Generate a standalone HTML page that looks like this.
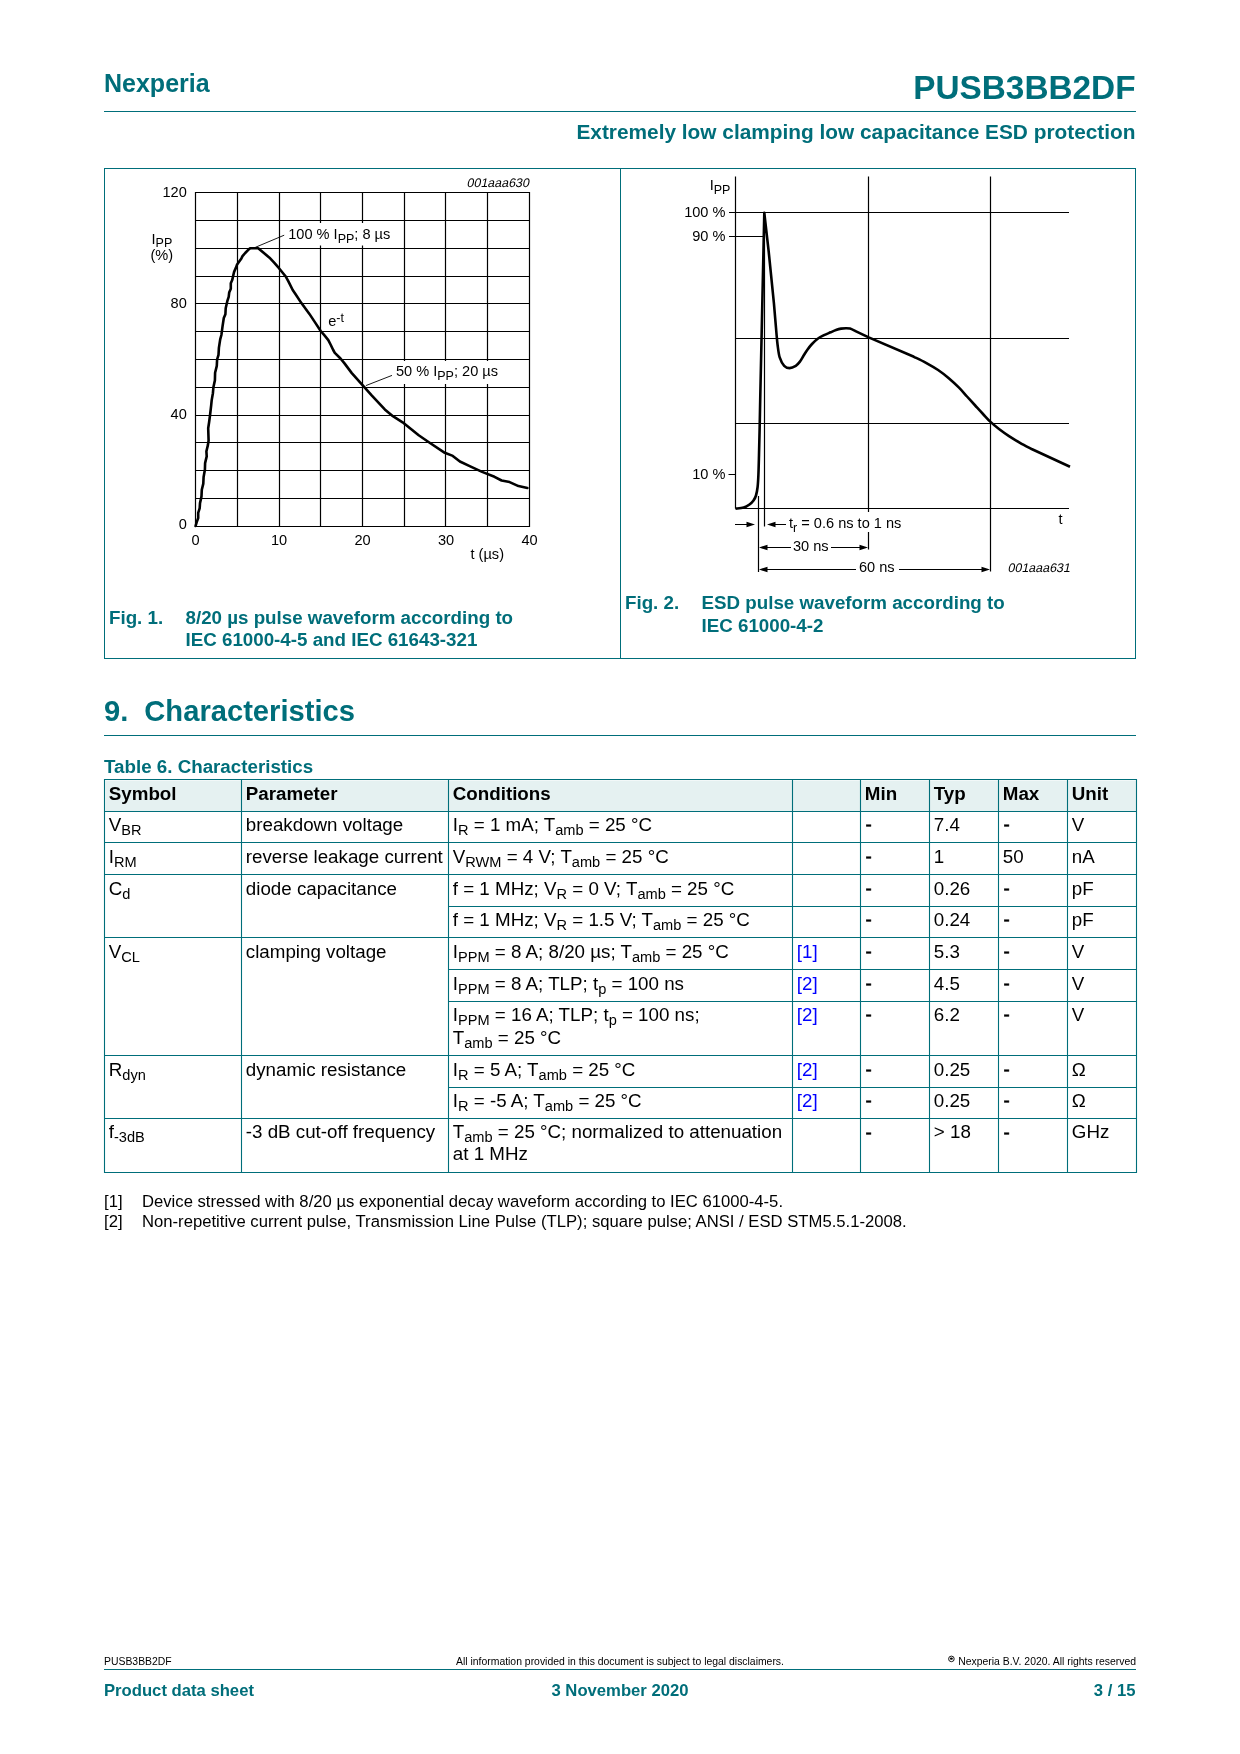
<!DOCTYPE html>
<html><head><meta charset="utf-8"><title>PUSB3BB2DF datasheet page 3</title>
<style>
html,body{margin:0;padding:0;background:#fff;}
body{width:1240px;height:1754px;overflow:hidden;font-family:"Liberation Sans",sans-serif;}
svg{display:block;font-family:"Liberation Sans",sans-serif;will-change:transform;}
</style></head><body>
<svg width="1240" height="1754" viewBox="0 0 1240 1754">
<rect width="1240" height="1754" fill="#fff"/>
<text x="104" y="92" font-size="25" font-weight="bold" fill="#006e7a">Nexperia</text>
<text x="1135.5" y="98.7" font-size="33.33" font-weight="bold" text-anchor="end" fill="#006e7a">PUSB3BB2DF</text>
<line x1="104" y1="111.5" x2="1136" y2="111.5" stroke="#006e7a" stroke-width="1"/>
<text x="1135.5" y="139" font-size="20.83" font-weight="bold" text-anchor="end" fill="#006e7a">Extremely low clamping low capacitance ESD protection</text>
<rect x="104.5" y="168.5" width="1031" height="490" fill="none" stroke="#006e7a" stroke-width="1"/>
<line x1="620.5" y1="168.5" x2="620.5" y2="658.5" stroke="#006e7a" stroke-width="1"/>
<path d="M195.5 191.9V527.1M237.5 191.9V527.1M279.5 191.9V527.1M320.5 191.9V527.1M362.5 191.9V527.1M404.5 191.9V527.1M445.5 191.9V527.1M487.5 191.9V527.1M529.5 191.9V527.1M194.9 192.5H530.1M194.9 220.5H530.1M194.9 248.5H530.1M194.9 276.5H530.1M194.9 303.5H530.1M194.9 331.5H530.1M194.9 359.5H530.1M194.9 387.5H530.1M194.9 415.5H530.1M194.9 442.5H530.1M194.9 470.5H530.1M194.9 498.5H530.1M194.9 526.5H530.1" stroke="#000" stroke-width="1.2" fill="none"/>
<rect x="284" y="223" width="116" height="22.5" fill="#fff"/>
<rect x="392" y="361" width="110" height="23" fill="#fff"/>
<path d="M195.6 526.0 L196.7 522.1 L198.2 518.0 L198.2 512.8 L199.7 508.2 L200.0 503.1 L201.5 496.4 L201.8 489.7 L203.3 483.6 L203.6 476.9 L204.9 469.7 L205.1 463.1 L206.7 456.4 L206.4 451.3 L207.9 445.1 L208.6 440.5 L208.2 428.3 L209.1 422.3 L210.0 415.5 L211.2 405.2 L211.7 400.1 L212.9 393.2 L213.4 387.3 L214.9 380.4 L215.1 372.7 L216.8 365.9 L217.1 359.5 L218.5 354.8 L218.9 347.9 L220.2 339.4 L221.4 335.0 L222.5 326.6 L223.8 318.0 L225.4 314.2 L225.7 308.2 L227.3 301.2 L228.7 296.8 L229.2 292.5 L230.8 288.7 L230.8 283.3 L232.2 280.1 L233.3 275.2 L234.1 271.9 L236.0 267.6 L237.1 264.4 L238.7 262.2 L241.4 258.4 L242.5 256.2 L245.2 253.0 L249.0 249.2 L250.1 248.2 L258.2 248.2 L263.0 252.3 L269.5 257.7 L274.6 263.1 L279.0 268.2 L285.5 276.2 L288.4 281.3 L292.7 290.0 L295.6 294.3 L301.4 303.1 L309.4 313.9 L315.2 322.6 L320.7 331.0 L324.7 335.7 L328.3 340.1 L330.8 345.0 L333.2 350.0 L334.8 352.9 L340.5 358.5 L344.5 363.4 L351.8 373.1 L362.3 384.8 L371.9 395.6 L384.8 409.4 L392.9 416.2 L402.6 422.3 L418.7 435.2 L428.9 442.2 L444.8 452.8 L452.8 455.9 L459.9 461.5 L469.7 466.1 L482.1 471.9 L494.5 476.8 L501.6 480.5 L509.6 482.1 L518.5 486.1 L527.4 487.9" stroke="#000" stroke-width="2.6" fill="none" stroke-linejoin="round" stroke-linecap="round"/>
<line x1="255.2" y1="247.4" x2="284.2" y2="235.2" stroke="#000" stroke-width="0.9"/>
<line x1="365.9" y1="385.6" x2="392" y2="375.4" stroke="#000" stroke-width="0.9"/>
<text x="288.2" y="238.6" font-size="14.58">100 % I<tspan baseline-shift="-3.5" font-size="12.5">PP</tspan>; 8 µs</text>
<text x="395.9" y="376.1" font-size="14.58">50 % I<tspan baseline-shift="-3.5" font-size="12.5">PP</tspan>; 20 µs</text>
<text x="328.2" y="325.5" font-size="14.58">e<tspan baseline-shift="4.5" font-size="12.5">-t</tspan></text>
<text x="186.8" y="196.7" font-size="14.58" text-anchor="end">120</text>
<text x="186.8" y="307.9" font-size="14.58" text-anchor="end">80</text>
<text x="186.8" y="418.7" font-size="14.58" text-anchor="end">40</text>
<text x="186.8" y="529.4" font-size="14.58" text-anchor="end">0</text>
<text x="151.5" y="243.8" font-size="14.58">I<tspan baseline-shift="-3.2" font-size="12.5">PP</tspan></text>
<text x="150.5" y="260.3" font-size="14.58">(%)</text>
<text x="195.5" y="544.5" font-size="14.58" text-anchor="middle">0</text>
<text x="279.0" y="544.5" font-size="14.58" text-anchor="middle">10</text>
<text x="362.5" y="544.5" font-size="14.58" text-anchor="middle">20</text>
<text x="446.0" y="544.5" font-size="14.58" text-anchor="middle">30</text>
<text x="529.5" y="544.5" font-size="14.58" text-anchor="middle">40</text>
<text x="470.5" y="559.3" font-size="14.58">t (µs)</text>
<g transform="translate(529 187) skewX(-12)"><text x="0" y="0" font-size="12.5" text-anchor="end">001aaa630</text></g>
<text x="109" y="624" font-size="18.75" font-weight="bold" fill="#006e7a">Fig. 1.</text>
<text x="185.5" y="624" font-size="18.75" font-weight="bold" fill="#006e7a">8/20 µs pulse waveform according to</text>
<text x="185.5" y="646.3" font-size="18.75" font-weight="bold" fill="#006e7a">IEC 61000-4-5 and IEC 61643-321</text>
<path d="M735.5 176.5V508.5M868.5 176.5V512M868.5 532V549.5M990.5 176.5V571.5M729 212.5H1069M729 236.5H763M735.5 338.5H1069M735.5 423.5H1069M728.5 474.5H735.5M735.5 508.5H1069M764.5 212.5V526.5M758.5 496V572M735 524.5H749M775 524.5H786M766 547.5H791M831 547.5H860M766 569.5H856M899 569.5H982" stroke="#000" stroke-width="1.2" fill="none"/>
<path d="M755 524.5L746.5 521.7L746.5 527.3ZM767 524.5L775.5 521.7L775.5 527.3ZM759 547.5L767.5 544.7L767.5 550.3ZM868 547.5L859.5 544.7L859.5 550.3ZM759 569.5L767.5 566.7L767.5 572.3ZM990 569.5L981.5 566.7L981.5 572.3Z" fill="#000"/>
<path d="M735.5 508.6 C736.87 508.43 741.37 508.28 743.70 507.60 C746.03 506.92 747.87 505.68 749.50 504.50 C751.13 503.32 752.42 502.00 753.50 500.50 C754.58 499.00 755.32 497.75 756.00 495.50 C756.68 493.25 757.20 490.42 757.60 487.00 C758.00 483.58 758.17 480.33 758.40 475.00 C758.63 469.67 758.80 462.50 759.00 455.00 C759.20 447.50 759.38 440.00 759.60 430.00 C759.82 420.00 760.18 400.83 760.30 395.00 L764.3 212.8 L768.7 251.6 L773.9 303.2 L776.6 335 C776.77 336.67 777.08 341.27 777.60 345.00 C778.12 348.73 778.60 353.93 779.70 357.40 C780.80 360.87 782.55 364.02 784.20 365.80 C785.85 367.58 787.67 368.10 789.60 368.10 C791.53 368.10 794.12 366.83 795.80 365.80 C797.48 364.77 798.42 363.57 799.70 361.90 C800.98 360.23 802.22 357.83 803.50 355.80 C804.78 353.77 805.98 351.67 807.40 349.70 C808.82 347.73 810.28 345.83 812.00 344.00 C813.72 342.17 815.70 340.17 817.70 338.70 C819.70 337.23 821.85 336.27 824.00 335.20 C826.15 334.13 828.60 333.17 830.60 332.30 C832.60 331.43 834.27 330.62 836.00 330.00 C837.73 329.38 839.33 328.90 841.00 328.60 C842.67 328.30 844.50 328.20 846.00 328.20 C847.50 328.20 848.50 328.17 850.00 328.60 C851.50 329.03 854.17 330.43 855.00 330.80 L868.7 337.4 L913.9 356.8 C915.92 357.80 921.97 360.60 926.00 362.80 C930.03 365.00 934.35 367.47 938.10 370.00 C941.85 372.53 945.02 375.05 948.50 378.00 C951.98 380.95 955.92 384.62 959.00 387.70 C962.08 390.78 964.30 393.53 967.00 396.50 C969.70 399.47 972.53 402.58 975.20 405.50 C977.87 408.42 980.45 411.27 983.00 414.00 C985.55 416.73 987.83 419.40 990.50 421.90 C993.17 424.40 995.92 426.63 999.00 429.00 C1002.08 431.37 1005.50 433.80 1009.00 436.10 C1012.50 438.40 1016.23 440.65 1020.00 442.80 C1023.77 444.95 1029.67 447.97 1031.60 449.00 L1070 466.8" stroke="#000" stroke-width="2.6" fill="none" stroke-linejoin="round"/>
<text x="709.7" y="190.4" font-size="14.58">I<tspan baseline-shift="-3.5" font-size="12.5">PP</tspan></text>
<text x="725.5" y="216.7" font-size="14.58" text-anchor="end">100 %</text>
<text x="725.5" y="240.8" font-size="14.58" text-anchor="end">90 %</text>
<text x="725.5" y="479.2" font-size="14.58" text-anchor="end">10 %</text>
<text x="1058.5" y="523.8" font-size="14.58">t</text>
<text x="789" y="527.7" font-size="14.58">t<tspan baseline-shift="-3.5" font-size="12.5">r</tspan> = 0.6 ns to 1 ns</text>
<text x="793" y="550.8" font-size="14.58">30 ns</text>
<text x="859" y="572.2" font-size="14.58">60 ns</text>
<g transform="translate(1070 572.2) skewX(-12)"><text x="0" y="0" font-size="12.5" text-anchor="end">001aaa631</text></g>
<text x="625" y="609.3" font-size="18.75" font-weight="bold" fill="#006e7a">Fig. 2.</text>
<text x="701.5" y="609.3" font-size="18.75" font-weight="bold" fill="#006e7a">ESD pulse waveform according to</text>
<text x="701.5" y="632.3" font-size="18.75" font-weight="bold" fill="#006e7a">IEC 61000-4-2</text>
<text x="104" y="720.5" font-size="29.17" font-weight="bold" fill="#006e7a">9.</text>
<text x="144.3" y="720.5" font-size="29.17" font-weight="bold" fill="#006e7a">Characteristics</text>
<line x1="104" y1="735.5" x2="1136" y2="735.5" stroke="#006e7a" stroke-width="1"/>
<text x="104" y="772.8" font-size="18.75" font-weight="bold" fill="#006e7a">Table 6. Characteristics</text>
<rect x="105.5" y="780.5" width="1030.5" height="30.5" fill="#e5f1f1"/>
<path d="M104.5 779.5H1136.5V1172.5H104.5ZM241.5 779.5V1172.5M448.5 779.5V1172.5M792.5 779.5V1172.5M860.5 779.5V1172.5M929.5 779.5V1172.5M998.5 779.5V1172.5M1067.5 779.5V1172.5M104.5 811.5H1136.5M104.5 842.5H1136.5M104.5 874.5H1136.5M104.5 937.5H1136.5M104.5 1055.5H1136.5M104.5 1118.5H1136.5M448.5 906.5H1136.5M448.5 969.5H1136.5M448.5 1001.5H1136.5M448.5 1087.5H1136.5" stroke="#006e7a" stroke-width="1.1" fill="none"/>
<text x="108.8" y="799.8" font-size="18.75" font-weight="bold">Symbol</text>
<text x="245.8" y="799.8" font-size="18.75" font-weight="bold">Parameter</text>
<text x="452.8" y="799.8" font-size="18.75" font-weight="bold">Conditions</text>
<text x="864.8" y="799.8" font-size="18.75" font-weight="bold">Min</text>
<text x="933.8" y="799.8" font-size="18.75" font-weight="bold">Typ</text>
<text x="1002.8" y="799.8" font-size="18.75" font-weight="bold">Max</text>
<text x="1071.8" y="799.8" font-size="18.75" font-weight="bold">Unit</text>
<text x="108.8" y="830.8" font-size="18.75">V<tspan baseline-shift="-4" font-size="14.58">BR</tspan></text>
<text x="245.8" y="830.8" font-size="18.75">breakdown voltage</text>
<text x="452.8" y="830.8" font-size="18.75">I<tspan baseline-shift="-4" font-size="14.58">R</tspan> = 1 mA; T<tspan baseline-shift="-4" font-size="14.58">amb</tspan> = 25 °C</text>
<text x="865.4" y="831.3" font-size="18.75" stroke="#000" stroke-width="0.55">-</text>
<text x="933.8" y="830.8" font-size="18.75">7.4</text>
<text x="1003.4" y="831.3" font-size="18.75" stroke="#000" stroke-width="0.55">-</text>
<text x="1071.8" y="830.8" font-size="18.75">V</text>
<text x="108.8" y="862.6" font-size="18.75">I<tspan baseline-shift="-4" font-size="14.58">RM</tspan></text>
<text x="245.8" y="862.6" font-size="18.75">reverse leakage current</text>
<text x="452.8" y="862.6" font-size="18.75">V<tspan baseline-shift="-4" font-size="14.58">RWM</tspan> = 4 V; T<tspan baseline-shift="-4" font-size="14.58">amb</tspan> = 25 °C</text>
<text x="865.4" y="863.1" font-size="18.75" stroke="#000" stroke-width="0.55">-</text>
<text x="933.8" y="862.6" font-size="18.75">1</text>
<text x="1002.8" y="862.6" font-size="18.75">50</text>
<text x="1071.8" y="862.6" font-size="18.75">nA</text>
<text x="108.8" y="894.6" font-size="18.75">C<tspan baseline-shift="-4" font-size="14.58">d</tspan></text>
<text x="245.8" y="894.6" font-size="18.75">diode capacitance</text>
<text x="452.8" y="894.6" font-size="18.75">f = 1 MHz; V<tspan baseline-shift="-4" font-size="14.58">R</tspan> = 0 V; T<tspan baseline-shift="-4" font-size="14.58">amb</tspan> = 25 °C</text>
<text x="865.4" y="895.1" font-size="18.75" stroke="#000" stroke-width="0.55">-</text>
<text x="933.8" y="894.6" font-size="18.75">0.26</text>
<text x="1003.4" y="895.1" font-size="18.75" stroke="#000" stroke-width="0.55">-</text>
<text x="1071.8" y="894.6" font-size="18.75">pF</text>
<text x="452.8" y="925.5" font-size="18.75">f = 1 MHz; V<tspan baseline-shift="-4" font-size="14.58">R</tspan> = 1.5 V; T<tspan baseline-shift="-4" font-size="14.58">amb</tspan> = 25 °C</text>
<text x="865.4" y="926.0" font-size="18.75" stroke="#000" stroke-width="0.55">-</text>
<text x="933.8" y="925.5" font-size="18.75">0.24</text>
<text x="1003.4" y="926.0" font-size="18.75" stroke="#000" stroke-width="0.55">-</text>
<text x="1071.8" y="925.5" font-size="18.75">pF</text>
<text x="108.8" y="957.5" font-size="18.75">V<tspan baseline-shift="-4" font-size="14.58">CL</tspan></text>
<text x="245.8" y="957.5" font-size="18.75">clamping voltage</text>
<text x="452.8" y="957.5" font-size="18.75">I<tspan baseline-shift="-4" font-size="14.58">PPM</tspan> = 8 A; 8/20 µs; T<tspan baseline-shift="-4" font-size="14.58">amb</tspan> = 25 °C</text>
<text x="796.8" y="957.5" font-size="18.75" fill="#0000ff">[1]</text>
<text x="865.4" y="958.0" font-size="18.75" stroke="#000" stroke-width="0.55">-</text>
<text x="933.8" y="957.5" font-size="18.75">5.3</text>
<text x="1003.4" y="958.0" font-size="18.75" stroke="#000" stroke-width="0.55">-</text>
<text x="1071.8" y="957.5" font-size="18.75">V</text>
<text x="452.8" y="989.5" font-size="18.75">I<tspan baseline-shift="-4" font-size="14.58">PPM</tspan> = 8 A; TLP; t<tspan baseline-shift="-4" font-size="14.58">p</tspan> = 100 ns</text>
<text x="796.8" y="989.5" font-size="18.75" fill="#0000ff">[2]</text>
<text x="865.4" y="990.0" font-size="18.75" stroke="#000" stroke-width="0.55">-</text>
<text x="933.8" y="989.5" font-size="18.75">4.5</text>
<text x="1003.4" y="990.0" font-size="18.75" stroke="#000" stroke-width="0.55">-</text>
<text x="1071.8" y="989.5" font-size="18.75">V</text>
<text x="452.8" y="1020.5" font-size="18.75">I<tspan baseline-shift="-4" font-size="14.58">PPM</tspan> = 16 A; TLP; t<tspan baseline-shift="-4" font-size="14.58">p</tspan> = 100 ns;</text>
<text x="796.8" y="1020.5" font-size="18.75" fill="#0000ff">[2]</text>
<text x="865.4" y="1021.0" font-size="18.75" stroke="#000" stroke-width="0.55">-</text>
<text x="933.8" y="1020.5" font-size="18.75">6.2</text>
<text x="1003.4" y="1021.0" font-size="18.75" stroke="#000" stroke-width="0.55">-</text>
<text x="1071.8" y="1020.5" font-size="18.75">V</text>
<text x="108.8" y="1075.6" font-size="18.75">R<tspan baseline-shift="-4" font-size="14.58">dyn</tspan></text>
<text x="245.8" y="1075.6" font-size="18.75">dynamic resistance</text>
<text x="452.8" y="1075.6" font-size="18.75">I<tspan baseline-shift="-4" font-size="14.58">R</tspan> = 5 A; T<tspan baseline-shift="-4" font-size="14.58">amb</tspan> = 25 °C</text>
<text x="796.8" y="1075.6" font-size="18.75" fill="#0000ff">[2]</text>
<text x="865.4" y="1076.1" font-size="18.75" stroke="#000" stroke-width="0.55">-</text>
<text x="933.8" y="1075.6" font-size="18.75">0.25</text>
<text x="1003.4" y="1076.1" font-size="18.75" stroke="#000" stroke-width="0.55">-</text>
<text x="1071.8" y="1075.6" font-size="18.75">Ω</text>
<text x="452.8" y="1106.7" font-size="18.75">I<tspan baseline-shift="-4" font-size="14.58">R</tspan> = -5 A; T<tspan baseline-shift="-4" font-size="14.58">amb</tspan> = 25 °C</text>
<text x="796.8" y="1106.7" font-size="18.75" fill="#0000ff">[2]</text>
<text x="865.4" y="1107.2" font-size="18.75" stroke="#000" stroke-width="0.55">-</text>
<text x="933.8" y="1106.7" font-size="18.75">0.25</text>
<text x="1003.4" y="1107.2" font-size="18.75" stroke="#000" stroke-width="0.55">-</text>
<text x="1071.8" y="1106.7" font-size="18.75">Ω</text>
<text x="108.8" y="1138.4" font-size="18.75">f<tspan baseline-shift="-4" font-size="14.58">-3dB</tspan></text>
<text x="245.8" y="1138.4" font-size="18.75">-3 dB cut-off frequency</text>
<text x="452.8" y="1138.4" font-size="18.75">T<tspan baseline-shift="-4" font-size="14.58">amb</tspan> = 25 °C; normalized to attenuation</text>
<text x="865.4" y="1138.9" font-size="18.75" stroke="#000" stroke-width="0.55">-</text>
<text x="933.8" y="1138.4" font-size="18.75">&gt; 18</text>
<text x="1003.4" y="1138.9" font-size="18.75" stroke="#000" stroke-width="0.55">-</text>
<text x="1071.8" y="1138.4" font-size="18.75">GHz</text>
<text x="452.8" y="1044.0" font-size="18.75">T<tspan baseline-shift="-4" font-size="14.58">amb</tspan> = 25 °C</text>
<text x="452.8" y="1160.3" font-size="18.75">at 1 MHz</text>
<text x="104" y="1206.8" font-size="16.67">[1]</text>
<text x="142" y="1206.8" font-size="16.67">Device stressed with 8/20 µs exponential decay waveform according to IEC 61000-4-5.</text>
<text x="104" y="1226.6" font-size="16.67">[2]</text>
<text x="142" y="1226.6" font-size="16.67">Non-repetitive current pulse, Transmission Line Pulse (TLP); square pulse; ANSI / ESD STM5.5.1-2008.</text>
<text x="104" y="1664.9" font-size="10.42">PUSB3BB2DF</text>
<text x="620" y="1664.9" font-size="10.42" text-anchor="middle">All information provided in this document is subject to legal disclaimers.</text>
<text x="1136" y="1664.9" font-size="10.42" text-anchor="end">Nexperia B.V. 2020. All rights reserved</text>
<circle cx="951.4" cy="1658.9" r="2.8" fill="none" stroke="#000" stroke-width="0.9"/><ellipse cx="951.4" cy="1658.7" rx="1.5" ry="1.1" fill="#000"/>
<line x1="104" y1="1669.5" x2="1136" y2="1669.5" stroke="#006e7a" stroke-width="1"/>
<text x="104" y="1695.5" font-size="16.67" font-weight="bold" fill="#006e7a">Product data sheet</text>
<text x="620" y="1695.5" font-size="16.67" font-weight="bold" text-anchor="middle" fill="#006e7a">3 November 2020</text>
<text x="1135.5" y="1695.5" font-size="16.67" font-weight="bold" text-anchor="end" fill="#006e7a">3 / 15</text>
</svg>
</body></html>
